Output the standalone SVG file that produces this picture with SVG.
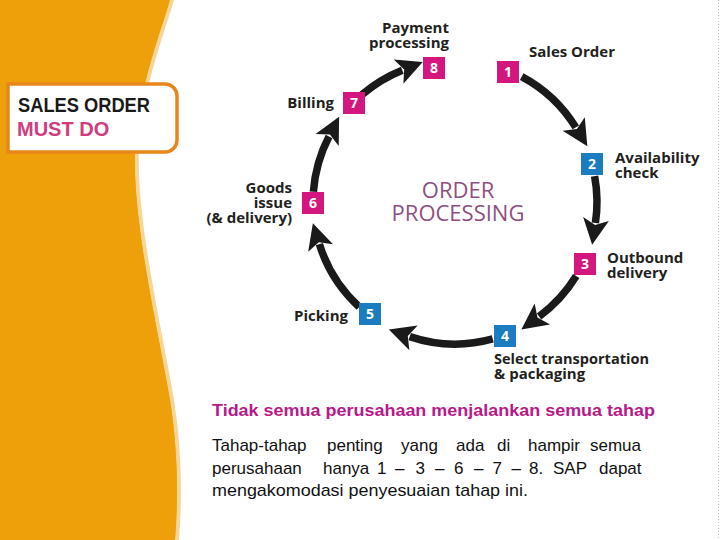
<svg xmlns="http://www.w3.org/2000/svg" width="720" height="540" viewBox="0 0 720 540">
<style>
.lbl{font-family:"Open Sans","DejaVu Sans",sans-serif;font-weight:700;font-size:15px;fill:#231F20}
.num{font-family:"Open Sans","DejaVu Sans",sans-serif;font-weight:700;font-size:14px;fill:#fff;text-anchor:middle}
.mag{fill:#D4177E}
.blu{fill:#1B7CC0}
.arc{fill:none;stroke:#1a1a1a;stroke-width:7.5;marker-end:url(#ah)}
.body{font-family:"Liberation Sans",Arial,sans-serif;font-size:17px;fill:#111}
</style>
<defs>
<marker id="ah" markerUnits="userSpaceOnUse" markerWidth="44" markerHeight="44" viewBox="-10 -22 44 44" refX="0" refY="0" orient="auto">
<path d="M22,0 L-4,-13 L2,0 L-4,13 Z" fill="#1a1a1a"/>
</marker>
</defs>
<rect width="720" height="540" fill="#fff"/>
<line x1="718.5" y1="0" x2="718.5" y2="540" stroke="#bbb" stroke-width="1" stroke-dasharray="1 2"/>
<g id="sidebar">
<path d="M0,0 L172,0 C160,40 140,90 137,150 C134,220 160,330 172,400 C180,450 180,500 177,540 L0,540 Z" fill="#EEA00A" stroke="#F7D596" stroke-width="4"/>
<path d="M0,0 L170,0 C158,40 138,90 135,150 C132,220 158,330 170,400 C178,450 178,500 175,540 L0,540 Z" fill="#EEA00A"/>
</g>
<g id="title-box">
<path d="M8,84 H165 A12,12 0 0 1 177,96 V140 A12,12 0 0 1 165,152 H8 Z" fill="#fff" stroke="#E8861C" stroke-width="3.5"/>
<text x="18" y="112" font-family="Liberation Sans,Arial,sans-serif" font-weight="700" font-size="20" fill="#1a1a1a" textLength="132" lengthAdjust="spacingAndGlyphs">SALES ORDER</text>
<text x="17" y="136" font-family="Liberation Sans,Arial,sans-serif" font-weight="700" font-size="20" fill="#D13C7E">MUST DO</text>
</g>
<g id="connectors">
<path class="arc" d="M521.7,76.6 A142,142 0 0 1 575.8,127.4"/>
<path class="arc" d="M594.6,176.1 A142,142 0 0 1 595.4,223"/>
<path class="arc" d="M576.2,276 A142,142 0 0 1 539.1,316.4"/>
<path class="arc" d="M492.7,338.9 A142,142 0 0 1 409.7,336.6"/>
<path class="arc" d="M359.2,306.9 A142,142 0 0 1 319.4,244.2"/>
<path class="arc" d="M313.4,191.8 A142,142 0 0 1 329,136.4"/>
<path class="arc" d="M362,94.7 A142,142 0 0 1 402.3,70.2"/>
</g>
<g id="center-label">
<text x="458" y="198" font-family="Open Sans,DejaVu Sans,sans-serif" font-size="22" fill="#8E4F80" text-anchor="middle">ORDER</text>
<text x="458" y="221" font-family="Open Sans,DejaVu Sans,sans-serif" font-size="22" fill="#8E4F80" text-anchor="middle">PROCESSING</text>
</g>
<g id="n1"><rect class="mag" x="497" y="61" width="22" height="22"/><text class="num" x="508" y="77">1</text><text class="lbl" x="529" y="57">Sales Order</text></g>
<g id="n2"><rect class="blu" x="581" y="153" width="22" height="22"/><text class="num" x="592" y="169">2</text><text class="lbl" x="615" y="163">Availability</text><text class="lbl" x="615" y="178">check</text></g>
<g id="n3"><rect class="mag" x="574" y="253" width="22" height="22"/><text class="num" x="585" y="269">3</text><text class="lbl" x="607" y="263">Outbound</text><text class="lbl" x="607" y="278">delivery</text></g>
<g id="n4"><rect class="blu" x="494" y="325" width="22" height="22"/><text class="num" x="505" y="341">4</text><text class="lbl" x="494" y="364" textLength="155" lengthAdjust="spacingAndGlyphs">Select transportation</text><text class="lbl" x="494" y="379">&amp; packaging</text></g>
<g id="n5"><rect class="blu" x="359" y="303" width="22" height="22"/><text class="num" x="370" y="319">5</text><text class="lbl" x="348" y="321" text-anchor="end">Picking</text></g>
<g id="n6"><rect class="mag" x="302" y="192" width="22" height="22"/><text class="num" x="313" y="208">6</text><text class="lbl" x="292" y="193" text-anchor="end">Goods</text><text class="lbl" x="292" y="208" text-anchor="end">issue</text><text class="lbl" x="292" y="223" text-anchor="end">(&amp; delivery)</text></g>
<g id="n7"><rect class="mag" x="343" y="92" width="22" height="22"/><text class="num" x="354" y="108">7</text><text class="lbl" x="334" y="108" text-anchor="end">Billing</text></g>
<g id="n8"><rect class="mag" x="423" y="57" width="22" height="22"/><text class="num" x="434" y="73">8</text><text class="lbl" x="449" y="33" text-anchor="end">Payment</text><text class="lbl" x="449" y="48" text-anchor="end">processing</text></g>
<g id="notes">
<text x="212" y="416" font-family="Liberation Sans,Arial,sans-serif" font-weight="700" font-size="16.5" fill="#B8198A" textLength="443" lengthAdjust="spacingAndGlyphs">Tidak semua perusahaan menjalankan semua tahap</text>
<text class="body" y="451"><tspan x="212">Tahap-tahap</tspan><tspan x="327">penting</tspan><tspan x="401">yang</tspan><tspan x="456">ada</tspan><tspan x="497">di</tspan><tspan x="528">hampir</tspan><tspan x="590">semua</tspan></text>
<text class="body" y="473.5"><tspan x="212">perusahaan</tspan><tspan x="323">hanya</tspan><tspan x="377">1</tspan><tspan x="395">–</tspan><tspan x="415.5">3</tspan><tspan x="435">–</tspan><tspan x="454">6</tspan><tspan x="474">–</tspan><tspan x="492.5">7</tspan><tspan x="511.5">–</tspan><tspan x="529">8.</tspan><tspan x="553">SAP</tspan><tspan x="599">dapat</tspan></text>
<text class="body" x="212" y="496" textLength="316" lengthAdjust="spacingAndGlyphs">mengakomodasi penyesuaian tahap ini.</text>
</g>
</svg>
